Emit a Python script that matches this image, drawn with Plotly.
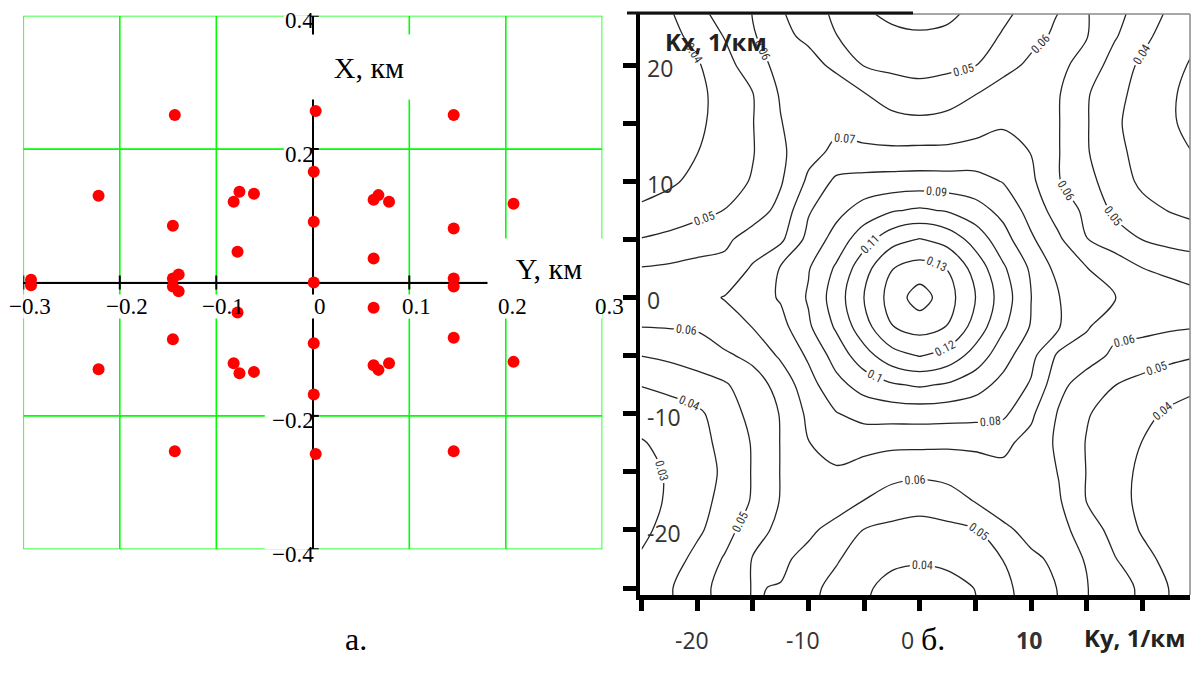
import plotly.graph_objects as go

W, H = 1192, 684

# ---------------- panel а: antenna element positions (km) ----------------
pos_y_km = [-0.143, -0.222, -0.145, -0.076, -0.082, -0.061, -0.078, 0.003, 0.001, 0.001, 0.001,
            -0.292, -0.292, -0.139, -0.145, -0.145, -0.139,
            0.146, 0.063, 0.068, 0.079, 0.208, 0.146, 0.063, 0.146, 0.146,
            -0.078, -0.145, -0.222, -0.082, -0.076, -0.061, -0.143, 0.001, 0.001, 0.003,
            0.063, 0.146, 0.063, 0.068, 0.079, 0.208, 0.146]
pos_x_km = [0.251, 0.130, 0.085, 0.136, 0.121, 0.133, 0.046, 0.257, 0.166, 0.091, 0.0,
            0.004, -0.004, 0.012, 0.006, -0.006, -0.013,
            0.251, 0.124, 0.131, 0.121, 0.118, 0.081, 0.036, 0.006, -0.006,
            -0.045, -0.085, -0.130, -0.121, -0.136, -0.134, -0.253, -0.091, -0.168, -0.257,
            -0.038, -0.083, -0.124, -0.131, -0.121, -0.119, -0.253]

a_xticks = [-0.3, -0.2, -0.1, 0.0, 0.1, 0.2, 0.3]
a_xticktext = ["\u22120.3", "\u22120.2", "\u22120.1", "0", "0.1", "0.2", "0.3"]
a_yticks = [0.4, 0.2, -0.2, -0.4]
a_yticktext = ["0.4", "0.2", "\u22120.2", "\u22120.4"]
a_ygrid = [0.4, 0.2, 0.0, -0.2, -0.4]
a_xrange = [-0.3, 0.3]
a_yrange = [-0.4, 0.4]

# ---------------- panel б: spectrum grid (1/км) ----------------
ky_vals = [-25, -22.5, -20, -17.5, -15, -12.5, -10, -7.5, -5, -2.5, 0,
           2.5, 5, 7.5, 10, 12.5, 15, 17.5, 20, 22.5, 25]
kx_rows = [25, 22.5, 20, 17.5, 15, 12.5, 10, 7.5, 5, 2.5, 0,
           -2.5, -5, -7.5, -10, -12.5, -15, -17.5, -20, -22.5, -25, -27.5]
z_rows = [
    [0.036, 0.0395, 0.048, 0.055, 0.0603, 0.0605, 0.0545, 0.0475, 0.0402, 0.037, 0.036, 0.037, 0.0415, 0.047, 0.0527, 0.0595, 0.0605, 0.0535, 0.0465, 0.039, 0.035],
    [0.035, 0.037, 0.043, 0.0506, 0.0597, 0.062, 0.0583, 0.0502, 0.045, 0.042, 0.041, 0.042, 0.045, 0.051, 0.057, 0.062, 0.0605, 0.051, 0.043, 0.035, 0.031],
    [0.034, 0.037, 0.039, 0.0463, 0.0557, 0.063, 0.063, 0.058, 0.0495, 0.0475, 0.0467, 0.0475, 0.0497, 0.0564, 0.062, 0.0625, 0.056, 0.046, 0.038, 0.033, 0.028],
    [0.033, 0.035, 0.038, 0.0432, 0.0497, 0.061, 0.0655, 0.065, 0.0605, 0.056, 0.0537, 0.056, 0.0598, 0.065, 0.0655, 0.0605, 0.051, 0.0425, 0.037, 0.031, 0.027],
    [0.032, 0.034, 0.038, 0.044, 0.0497, 0.0595, 0.067, 0.068, 0.066, 0.063, 0.0623, 0.063, 0.066, 0.069, 0.068, 0.0603, 0.0507, 0.0415, 0.036, 0.031, 0.027],
    [0.034, 0.037, 0.0398, 0.0447, 0.0495, 0.058, 0.067, 0.072, 0.0718, 0.072, 0.0724, 0.0725, 0.0735, 0.0735, 0.0698, 0.0603, 0.0508, 0.0425, 0.037, 0.032, 0.0295],
    [0.0375, 0.0385, 0.0423, 0.0463, 0.0507, 0.059, 0.0718, 0.082, 0.0835, 0.084, 0.0843, 0.084, 0.0835, 0.0795, 0.072, 0.0605, 0.053, 0.045, 0.038, 0.035, 0.033],
    [0.041, 0.044, 0.047, 0.0502, 0.055, 0.0629, 0.079, 0.087, 0.094, 0.099, 0.1014, 0.099, 0.094, 0.087, 0.0762, 0.0653, 0.058, 0.048, 0.043, 0.0395, 0.038],
    [0.0505, 0.0525, 0.055, 0.058, 0.0645, 0.068, 0.083, 0.094, 0.106, 0.1163, 0.1205, 0.1163, 0.106, 0.094, 0.0815, 0.0715, 0.0602, 0.055, 0.0498, 0.0465, 0.043],
    [0.0605, 0.0615, 0.063, 0.063, 0.0712, 0.0807, 0.0893, 0.1015, 0.1163, 0.1297, 0.134, 0.1297, 0.1163, 0.1015, 0.0885, 0.0766, 0.0703, 0.066, 0.0601, 0.0585, 0.058],
    [0.062, 0.064, 0.067, 0.0705, 0.075, 0.081, 0.091, 0.105, 0.1203, 0.134, 0.145, 0.134, 0.1203, 0.105, 0.0902, 0.0803, 0.0745, 0.0702, 0.066, 0.063, 0.061],
    [0.0602, 0.0606, 0.0612, 0.066, 0.0703, 0.0766, 0.0885, 0.1015, 0.1163, 0.1297, 0.134, 0.1297, 0.1163, 0.1015, 0.0893, 0.0807, 0.0712, 0.063, 0.063, 0.0615, 0.0605],
    [0.0502, 0.052, 0.0545, 0.0585, 0.0625, 0.0715, 0.0815, 0.094, 0.106, 0.1163, 0.1205, 0.1163, 0.106, 0.094, 0.083, 0.068, 0.0645, 0.058, 0.055, 0.0525, 0.0505],
    [0.0405, 0.043, 0.046, 0.049, 0.0555, 0.0635, 0.0762, 0.087, 0.094, 0.099, 0.1014, 0.099, 0.094, 0.087, 0.079, 0.0629, 0.055, 0.0502, 0.047, 0.044, 0.041],
    [0.033, 0.035, 0.038, 0.045, 0.053, 0.0605, 0.072, 0.0795, 0.0835, 0.084, 0.0843, 0.084, 0.0835, 0.082, 0.0718, 0.059, 0.0507, 0.0463, 0.0423, 0.0385, 0.0375],
    [0.0295, 0.032, 0.037, 0.0425, 0.0508, 0.0603, 0.0698, 0.0735, 0.0735, 0.0725, 0.0724, 0.072, 0.0718, 0.072, 0.067, 0.058, 0.0495, 0.0447, 0.0398, 0.037, 0.034],
    [0.027, 0.031, 0.036, 0.0415, 0.0507, 0.0603, 0.068, 0.069, 0.066, 0.063, 0.0623, 0.063, 0.066, 0.068, 0.067, 0.0595, 0.0497, 0.044, 0.038, 0.034, 0.032],
    [0.027, 0.031, 0.037, 0.0425, 0.051, 0.0605, 0.0655, 0.065, 0.0598, 0.056, 0.0537, 0.056, 0.0605, 0.065, 0.0655, 0.061, 0.0497, 0.0432, 0.038, 0.035, 0.033],
    [0.028, 0.033, 0.038, 0.046, 0.056, 0.0625, 0.062, 0.0564, 0.0497, 0.0475, 0.0467, 0.0475, 0.0495, 0.058, 0.063, 0.063, 0.0557, 0.0463, 0.039, 0.037, 0.034],
    [0.031, 0.035, 0.043, 0.051, 0.0605, 0.062, 0.057, 0.051, 0.045, 0.042, 0.041, 0.042, 0.045, 0.0502, 0.0583, 0.062, 0.0597, 0.0506, 0.043, 0.037, 0.035],
    [0.035, 0.039, 0.0465, 0.0535, 0.0605, 0.0595, 0.0527, 0.047, 0.0415, 0.037, 0.036, 0.037, 0.0402, 0.0475, 0.0545, 0.0605, 0.0603, 0.055, 0.048, 0.0395, 0.036],
    [0.035, 0.038, 0.045, 0.053, 0.0605, 0.059, 0.052, 0.046, 0.0405, 0.035, 0.034, 0.035, 0.039, 0.047, 0.054, 0.0605, 0.0603, 0.054, 0.047, 0.039, 0.036],
]
b_ticks = [-25, -20, -15, -10, -5, 0, 5, 10, 15, 20]
b_xlab_vals = [-20, -10, 0, 10]
b_xlab_text = ["-20", "-10", "0", "<b>10</b>"]
b_xlab_shift = [-5, -5, -12, -2]
b_ylab_vals = [20, 10, 0, -10, -20]
b_ylab_text = ["20", "10", "0", "-10", "-20"]

# ---------------- layout geometry (pixels -> paper) ----------------
def px_x(p):
    return p / W

def px_y(p):
    return (H - p) / H

SERIF = "Liberation Serif, Times New Roman, serif"
SANS = "Open Sans, Liberation Sans, sans-serif"
NARROW = "Liberation Sans Narrow, Roboto Condensed, Arial Narrow, sans-serif"
GREEN = "#00ff00"

fig = go.Figure()

fig.add_trace(go.Scatter(
    x=pos_y_km, y=pos_x_km, mode="markers",
    marker=dict(color="#ff0000", size=12, line=dict(width=0)),
    xaxis="x", yaxis="y", hoverinfo="skip", showlegend=False))

fig.add_trace(go.Contour(
    x=ky_vals, y=kx_rows[::-1], z=z_rows[::-1],
    xaxis="x2", yaxis="y2",
    contours=dict(start=0.03, end=0.1405, size=0.01, coloring="lines",
                  showlabels=True,
                  labelfont=dict(size=12, color="#333333", family=NARROW),
                  labelformat=".2~f"),
    colorscale=[[0, "#262626"], [1, "#262626"]],
    line=dict(width=1.3, smoothing=0.9),
    showscale=False, hoverinfo="skip"))

shapes = []
annotations = []

# panel а: green grid drawn under everything
for v in a_xticks:
    shapes.append(dict(type="line", xref="x", yref="y", x0=v, x1=v,
                       y0=a_yrange[0], y1=a_yrange[1],
                       line=dict(color=GREEN, width=1.6), layer="below"))
for v in a_ygrid:
    shapes.append(dict(type="line", xref="x", yref="y", x0=a_xrange[0], x1=a_xrange[1],
                       y0=v, y1=v, line=dict(color=GREEN, width=1.6), layer="below"))

# panel а: tick marks on the crossing axes
px_per_x = 965.0
px_per_y = 667.0
for v in a_xticks:
    if v == 0:
        continue
    shapes.append(dict(type="line", xref="x", yref="y", x0=v, x1=v,
                       y0=-7 / px_per_y, y1=7 / px_per_y,
                       line=dict(color="black", width=2), layer="between"))
for v in a_yticks:
    shapes.append(dict(type="line", xref="x", yref="y", x0=-6 / px_per_x, x1=6 / px_per_x,
                       y0=v, y1=v, line=dict(color="black", width=2), layer="between"))

# panel а: axis names with opaque boxes (drawn first so tick labels sit on top)
annotations.append(dict(x=px_x(309), y=px_y(67), xref="paper", yref="paper",
                        text="X, км", showarrow=False, xanchor="left", yanchor="middle",
                        width=80, height=36, align="right", borderpad=14, bgcolor="white",
                        font=dict(family=SERIF, size=30, color="black")))
annotations.append(dict(x=px_x(549), y=px_y(268), xref="paper", yref="paper",
                        text="Y, км", showarrow=False, xanchor="center", yanchor="middle",
                        width=100, height=36, align="center", borderpad=11, bgcolor="white",
                        font=dict(family=SERIF, size=30, color="black")))

# panel а: tick labels with white backgrounds beneath the markers
for v, t in zip(a_xticks, a_xticktext):
    hw = 9 if t == "0" else 23
    shapes.append(dict(type="rect", xref="x", yref="y",
                       x0=v + (7 - hw) / px_per_x, x1=v + (7 + hw) / px_per_x,
                       y0=-36 / px_per_y, y1=-12 / px_per_y,
                       fillcolor="white", line=dict(width=0), layer="between"))
    annotations.append(dict(x=v, y=0, xref="x", yref="y", text=t, showarrow=False,
                            xanchor="center", yanchor="middle", xshift=7, yshift=-24,
                            font=dict(family=SERIF, size=23, color="black")))
for v, t in zip(a_yticks, a_yticktext):
    wl = 48 if t.startswith("\u2212") else 29
    shapes.append(dict(type="rect", xref="x", yref="y",
                       x0=-wl / px_per_x, x1=-2 / px_per_x,
                       y0=v - 16 / px_per_y, y1=v + 6 / px_per_y,
                       fillcolor="white", line=dict(width=0), layer="between"))
    annotations.append(dict(x=0, y=v, xref="x", yref="y", text=t, showarrow=False,
                            xanchor="right", yanchor="middle", xshift=3, yshift=-5,
                            font=dict(family=SERIF, size=23, color="black")))

# panel б: tick labels
for v, t in zip(b_ylab_vals, b_ylab_text):
    annotations.append(dict(x=px_x(645), y=v, xref="paper", yref="y2", text=t,
                            showarrow=False, xanchor="left", yanchor="middle", yshift=-3,
                            font=dict(family=SANS, size=23, color="#333333")))
for v, t, s in zip(b_xlab_vals, b_xlab_text, b_xlab_shift):
    annotations.append(dict(x=v, y=px_y(640), xref="x2", yref="paper", text=t,
                            showarrow=False, xanchor="center", yanchor="middle", xshift=s,
                            font=dict(family=SANS, size=23, color="#333333")))
annotations.append(dict(x=px_x(663), y=px_y(41), xref="paper", yref="paper",
                        text="<b>Kx, 1/км</b>", showarrow=False, xanchor="left", yanchor="middle",
                        font=dict(family=SANS, size=24, color="#222222")))
annotations.append(dict(x=px_x(1187), y=px_y(637), xref="paper", yref="paper",
                        text="<b>Ky, 1/км</b>", showarrow=False, xanchor="right", yanchor="middle",
                        font=dict(family=SANS, size=24, color="#222222")))

# sub-figure captions
annotations.append(dict(x=px_x(343), y=px_y(659), xref="paper", yref="paper", text="а.",
                        showarrow=False, font=dict(family=SERIF, size=32, color="black")))
annotations.append(dict(x=px_x(947), y=px_y(659), xref="paper", yref="paper", text="б.",
                        showarrow=False, font=dict(family=SERIF, size=32, color="black")))

# panel б: frame pieces
shapes.append(dict(type="line", xref="paper", yref="paper", x0=px_x(640), x1=px_x(1190),
                   y0=px_y(14), y1=px_y(14), line=dict(color="#8a8a8a", width=1.5)))
shapes.append(dict(type="line", xref="paper", yref="paper", x0=px_x(1190), x1=px_x(1190),
                   y0=px_y(595), y1=px_y(14), line=dict(color="#8a8a8a", width=1.5)))
shapes.append(dict(type="line", xref="paper", yref="paper", x0=px_x(627), x1=px_x(913),
                   y0=px_y(13), y1=px_y(13), line=dict(color="#111111", width=3)))

fig.update_layout(
    width=W, height=H, margin=dict(l=0, r=0, t=0, b=0),
    paper_bgcolor="white", plot_bgcolor="white", showlegend=False,
    xaxis=dict(domain=[px_x(23.3), px_x(602.3)], range=a_xrange,
               showgrid=False, zeroline=True, zerolinecolor="black", zerolinewidth=2,
               showline=False, showticklabels=False, ticks="", anchor="y", fixedrange=True),
    yaxis=dict(domain=[px_y(549.3), px_y(15.7)], range=a_yrange,
               showgrid=False, zeroline=True, zerolinecolor="black", zerolinewidth=2,
               showline=False, showticklabels=False, ticks="", anchor="x", fixedrange=True),
    xaxis2=dict(domain=[px_x(640), px_x(1190)], range=[-25.13, 24.28], anchor="y2",
                showgrid=False, zeroline=False, showline=True, linecolor="black", linewidth=5,
                ticks="outside", ticklen=11, tickwidth=5, tickcolor="black",
                tickmode="array", tickvals=b_ticks, showticklabels=False),
    yaxis2=dict(domain=[px_y(595), px_y(14)], range=[-25.6, 24.39], anchor="x2",
                showgrid=False, zeroline=False, showline=True, linecolor="black", linewidth=4,
                ticks="outside", ticklen=13, tickwidth=5, tickcolor="black",
                tickmode="array", tickvals=b_ticks, showticklabels=False),
    shapes=shapes, annotations=annotations,
)

fig.write_html("out.html")
